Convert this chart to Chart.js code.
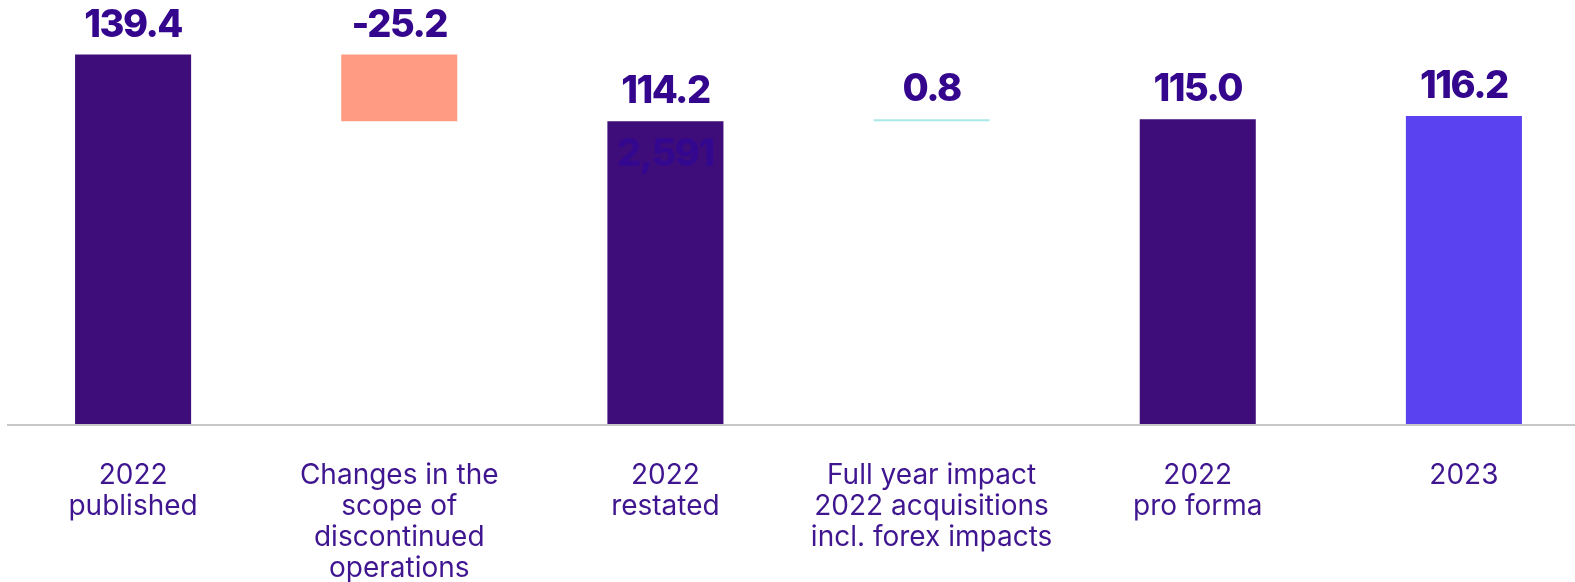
<!DOCTYPE html>
<html><head><meta charset="utf-8">
<script src="https://cdn.jsdelivr.net/npm/chart.js@4.4.0/dist/chart.umd.min.js"></script>
<style>
html,body{margin:0;padding:0;overflow:hidden;background:#fff;width:1575px;height:582px}
#wrap{position:absolute;left:0;top:0;width:1597px;height:582px}
</style>
</head><body><div id="wrap"><canvas id="c" width="1597" height="582"></canvas></div>
<script>
const categories = [
  ["2022","published"],
  ["Changes in the","scope of","discontinued","operations"],
  ["2022","restated"],
  ["Full year impact","2022 acquisitions","incl. forex impacts"],
  ["2022","pro forma"],
  ["2023"]
];
const values = [139.4, -25.2, 114.2, 0.8, 115.0, 116.2];
const kinds = ["total","delta","total","delta","total","total"];
const valueLabels = ["139.4","-25.2","114.2","0.8","115.0","116.2"];
const overlapLabelIndex = 2;
const overlapLabelText = "2,591";
const barColors = ["#3f0d7a","#ff9b82","#3f0d7a","#a9e9e9","#3f0d7a","#5b42f0"];

let running = 0;
const ranges = values.map((v,i)=>{
  if (kinds[i]==="total"){ running = v; return [0,v]; }
  const r=[running, running+v]; running += v; return r;
});

const FONT = "Inter";
const labelPlugin = {
  id:'labels',
  beforeDatasetsDraw(chart){
    const y = chart.scales.y, ctx = chart.ctx;
    const py = Math.round(y.getPixelForValue(0));
    ctx.save();
    ctx.strokeStyle = "#c8c8c8"; ctx.lineWidth = 2;
    ctx.beginPath(); ctx.moveTo(7, py+1); ctx.lineTo(chart.width, py+1); ctx.stroke();
    ctx.restore();
  },
  afterDatasetsDraw(chart){
    const ctx = chart.ctx, meta = chart.getDatasetMeta(0);
    ctx.save();
    ctx.font = "800 38px " + FONT;
    ctx.letterSpacing = "-1.5px";
    ctx.textAlign = "center"; ctx.textBaseline = "alphabetic";
    ctx.fillStyle = "#34068d";
    meta.data.forEach((el,i)=>{
      const top = Math.min(el.y, el.base);
      ctx.fillText(valueLabels[i], el.x, top - 18);
    });
    const el = meta.data[overlapLabelIndex];
    ctx.fillStyle = "#33088e";
    ctx.fillText(overlapLabelText, el.x, Math.min(el.y, el.base) + 45);
    ctx.restore();
  }
};

new Chart(document.getElementById('c'), {
  type:'bar',
  data:{ labels: categories, datasets:[{ data: ranges, backgroundColor: barColors, borderWidth:0,
    barPercentage:0.436, categoryPercentage:1 }]},
  options:{
    responsive:false, animation:false, devicePixelRatio:1,
    layout:{padding:0},
    plugins:{legend:{display:false}, tooltip:{enabled:false}},
    scales:{
      x:{ grid:{display:false, drawTicks:false}, border:{display:false},
          ticks:{ color:"#3f1590", font:{family:FONT, size:28, lineHeight:1.107}, padding:36, maxRotation:0, autoSkip:false },
          afterFit(s){ s.height = 158; } },
      y:{ display:false, min:0, max:160 }
    }
  },
  plugins:[labelPlugin]
});
</script></body></html>
